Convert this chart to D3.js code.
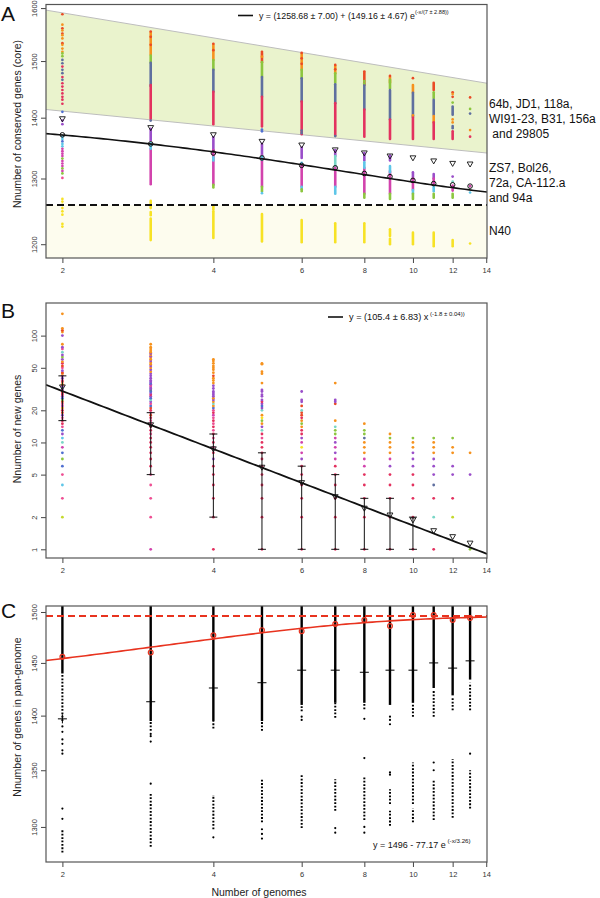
<!DOCTYPE html>
<html>
<head>
<meta charset="utf-8">
<title>Core, new and pan-genome</title>
<script src="https://d3js.org/d3.v7.min.js"></script>
<style>
body { margin: 0; background: #fff; }
svg text { font-family: "Liberation Sans", Arial, Helvetica, sans-serif; }
</style>
</head>
<body>
<script>
var width = 600,
    height = 898;

// ---------- shared ----------
var xTicks = [2, 4, 6, 8, 10, 12, 14];
var genomes = [2, 3, 4, 5, 6, 7, 8, 9, 10, 11, 12, 13];

var palette = {
  orange: "#f6921e", redor: "#ea4a26", green: "#8cc63f", slate: "#5f6f9f",
  crimson: "#e3315f", blue: "#4f6fd0", purple: "#9a4ec9", magenta: "#d243ad",
  cyan: "#5ec6e8", teal: "#79d6c6", yellow: "#f7e225", pink: "#ee4f93", yg: "#c4d92c"
};

// ---------- panel A: core genes ----------
var coreTicks = [1200, 1300, 1400, 1500, 1600];
var coreFit = { a: 1258.68, b: 149.16, c: 7 };
var bandUpper = [[1.855, 1596], [14.05, 1460]];
var bandLower = [[1.855, 1414], [14.05, 1341]];
var coreMeans = [1398, 1383, 1371, 1360, 1354, 1346, 1341, 1336, 1333, 1328, 1324, 1323];
var coreMedians = [1371, 1356, 1341, 1333, 1321, 1317, 1308, 1303, 1297, 1292, 1290, 1288];
var coreSegs = [
  [3,1512,1553,"orange"],[3,1497,1510,"green"],[3,1455,1497,"slate"],[3,1398,1457,"crimson"],[3,1362,1381,"purple"],[3,1291,1348,"magenta"],[3,1348,1357,"cyan"],[3,1254,1265,"yellow"],[3,1243,1248,"yellow"],[3,1206,1238,"yellow"],
  [4,1502,1530,"orange"],[4,1484,1502,"green"],[4,1445,1484,"slate"],[4,1389,1445,"crimson"],[4,1346,1367,"purple"],[4,1290,1346,"magenta"],[4,1329,1334,"cyan"],[4,1286,1290,"green"],[4,1252,1257,"yellow"],[4,1209,1249,"yellow"],
  [5,1498,1515,"redor"],[5,1471,1498,"green"],[5,1436,1471,"slate"],[5,1385,1436,"crimson"],[5,1337,1356,"purple"],[5,1287,1337,"magenta"],[5,1330,1336,"cyan"],[5,1280,1287,"green"],[5,1204,1245,"yellow"],
  [6,1484,1513,"orange"],[6,1469,1484,"green"],[6,1428,1469,"slate"],[6,1372,1428,"crimson"],[6,1333,1350,"purple"],[6,1287,1324,"magenta"],[6,1284,1287,"cyan"],[6,1280,1283,"green"],[6,1203,1236,"yellow"],
  [7,1478,1491,"orange"],[7,1461,1478,"green"],[7,1425,1458,"slate"],[7,1370,1425,"crimson"],[7,1336,1346,"purple"],[7,1317,1336,"teal"],[7,1287,1317,"magenta"],[7,1276,1287,"cyan"],[7,1203,1231,"yellow"],
  [8,1457,1479,"redor"],[8,1414,1457,"slate"],[8,1368,1414,"crimson"],[8,1329,1341,"purple"],[8,1276,1317,"magenta"],[8,1317,1326,"cyan"],[8,1270,1276,"green"],[8,1203,1231,"yellow"],
  [9,1461,1471,"orange"],[9,1451,1466,"green"],[9,1397,1448,"slate"],[9,1364,1397,"crimson"],[9,1329,1337,"purple"],[9,1276,1312,"magenta"],[9,1310,1320,"cyan"],[9,1268,1276,"green"],[9,1212,1222,"yellow"],[9,1200,1208,"yellow"],
  [10,1443,1457,"orange"],[10,1401,1443,"slate"],[10,1364,1401,"crimson"],[10,1298,1310,"purple"],[10,1282,1300,"magenta"],[10,1276,1282,"cyan"],[10,1268,1276,"green"],[10,1200,1217,"yellow"],
  [11,1448,1461,"redor"],[11,1434,1444,"green"],[11,1405,1431,"slate"],[11,1392,1403,"orange"],[11,1364,1392,"crimson"],[11,1300,1307,"purple"],[11,1292,1300,"magenta"],[11,1280,1287,"cyan"],[11,1270,1276,"green"],[11,1197,1217,"yellow"],
  [12,1405,1419,"slate"],[12,1382,1386,"slate"],[12,1364,1377,"crimson"],[12,1281,1289,"magenta"],[12,1270,1276,"green"],[12,1197,1206,"yellow"]
];
var coreDots = [
  [2,1588,"redor"],[2,1568,"orange"],[2,1561,"redor"],[2,1557,"orange"],[2,1551,"redor"],[2,1548,"orange"],[2,1542,"orange"],[2,1533,"redor"],[2,1530,"orange"],[2,1523,"orange"],[2,1517,"orange"],[2,1514,"green"],[2,1509,"green"],[2,1502,"slate"],[2,1496,"slate"],[2,1490,"crimson"],[2,1484,"slate"],[2,1478,"slate"],[2,1471,"crimson"],[2,1466,"slate"],[2,1460,"crimson"],[2,1454,"crimson"],[2,1448,"crimson"],[2,1442,"crimson"],[2,1436,"crimson"],[2,1431,"crimson"],[2,1424,"crimson"],[2,1410,"blue"],[2,1395,"purple"],[2,1389,"purple"],[2,1368,"cyan"],[2,1364,"cyan"],[2,1360,"blue"],[2,1356,"cyan"],[2,1352,"cyan"],[2,1348,"magenta"],[2,1344,"magenta"],[2,1340,"magenta"],[2,1336,"magenta"],[2,1332,"green"],[2,1328,"magenta"],[2,1324,"magenta"],[2,1320,"magenta"],[2,1316,"green"],[2,1312,"magenta"],[2,1308,"green"],[2,1301,"pink"],[2,1268,"yellow"],[2,1264,"yellow"],[2,1259,"yellow"],[2,1254,"yellow"],[2,1249,"yellow"],[2,1244,"yellow"],[2,1230,"yellow"],[2,1226,"yellow"],
  [3,1555,"redor"],[3,1545,"redor"],[3,1530,"redor"],[3,1395,"slate"],
  [4,1532,"redor"],[4,1520,"redor"],
  [5,1517,"redor"],[5,1508,"orange"],[5,1380,"blue"],[5,1377,"blue"],[5,1277,"cyan"],
  [6,1515,"redor"],[6,1505,"redor"],[6,1495,"redor"],[6,1378,"slate"],[6,1374,"slate"],[6,1325,"cyan"],
  [7,1493,"redor"],[7,1485,"redor"],[7,1369,"slate"],
  [8,1481,"redor"],[8,1464,"green"],[8,1460,"green"],
  [9,1473,"redor"],
  [10,1469,"redor"],[10,1404,"orange"],
  [12,1444,"redor"],[12,1441,"orange"],[12,1436,"redor"],[12,1426,"green"],[12,1397,"orange"],[12,1392,"orange"],[12,1303,"purple"],[12,1295,"teal"],
  [13,1435,"redor"],[13,1415,"green"],[13,1407,"slate"],[13,1379,"orange"],[13,1368,"crimson"],[13,1288,"magenta"],[13,1278,"cyan"],[13,1201,"yellow"]
];
var strainsTop = ["64b, JD1, 118a,", "WI91-23, B31, 156a", " and 29805"];
var strainsMid = ["ZS7, Bol26,", "72a, CA-112.a", "and 94a"];
var strainsLow = ["N40"];

// ---------- panel B: new genes ----------
var newTicks = [1, 2, 5, 10, 20, 50, 100];
var newFit = { a: 105.4, b: -1.8 };
var newMeans = [33, 14.6, 8.7, 5.85, 4.2, 3.1, 2.42, 2.09, 1.88, 1.49, 1.31, 1.14];
var newErr = [[2,16,42],[3,5,19],[4,2,12],[5,1,8],[6,1,6],[7,1,5],[8,1,3],[9,1,3],[10,1,2]];
var newDots = [
  [2,2,"yg"],[2,3,"pink"],[2,4,"cyan"],[2,5,"pink"],[2,6,"blue"],[2,7,"green"],[2,8,"blue"],[2,9,"magenta"],[2,10,"teal"],[2,11,"cyan"],[2,12,"purple"],[2,13,"blue"],[2,14,"pink"],[2,15,"crimson"],[2,16,"crimson"],[2,17,"pink"],[2,18,"purple"],[2,19,"redor"],[2,20,"crimson"],[2,21,"orange"],[2,22,"magenta"],[2,23,"pink"],[2,24,"redor"],[2,25,"green"],[2,26,"blue"],[2,27,"purple"],[2,28,"crimson"],[2,29,"crimson"],[2,30,"redor"],[2,31,"purple"],[2,33,"blue"],[2,34,"magenta"],[2,35,"orange"],[2,37,"redor"],[2,38,"pink"],[2,40,"purple"],[2,42,"magenta"],[2,44,"orange"],[2,45,"redor"],[2,47,"purple"],[2,50,"pink"],[2,52,"redor"],[2,55,"crimson"],[2,57,"orange"],[2,60,"purple"],[2,63,"green"],[2,66,"purple"],[2,70,"teal"],[2,75,"pink"],[2,78,"purple"],[2,83,"orange"],[2,100,"purple"],[2,108,"orange"],[2,112,"redor"],[2,117,"orange"],[2,160,"orange"],
  [3,1,"magenta"],[3,2,"pink"],[3,3,"pink"],[3,4,"pink"],[3,5,"pink"],[3,6,"crimson"],[3,7,"crimson"],[3,8,"crimson"],[3,9,"crimson"],[3,10,"crimson"],[3,11,"crimson"],[3,12,"pink"],[3,13,"crimson"],[3,14,"crimson"],[3,15,"pink"],[3,16,"pink"],[3,17,"crimson"],[3,18,"redor"],[3,19,"pink"],[3,20,"crimson"],[3,21,"redor"],[3,22,"blue"],[3,23,"pink"],[3,24,"purple"],[3,25,"teal"],[3,26,"blue"],[3,27,"purple"],[3,28,"crimson"],[3,29,"purple"],[3,30,"blue"],[3,31,"slate"],[3,32,"purple"],[3,33,"purple"],[3,34,"pink"],[3,35,"purple"],[3,36,"blue"],[3,37,"purple"],[3,38,"purple"],[3,40,"purple"],[3,42,"purple"],[3,44,"purple"],[3,46,"orange"],[3,48,"purple"],[3,50,"orange"],[3,52,"purple"],[3,54,"orange"],[3,56,"orange"],[3,58,"purple"],[3,60,"orange"],[3,62,"orange"],[3,64,"purple"],[3,66,"orange"],[3,68,"purple"],[3,70,"orange"],[3,72,"orange"],[3,75,"orange"],[3,78,"orange"],[3,83,"orange"],
  [4,1,"crimson"],[4,2,"crimson"],[4,3,"crimson"],[4,4,"crimson"],[4,5,"crimson"],[4,6,"crimson"],[4,7,"purple"],[4,8,"crimson"],[4,9,"pink"],[4,10,"crimson"],[4,11,"pink"],[4,12,"crimson"],[4,13,"pink"],[4,14,"crimson"],[4,15,"pink"],[4,16,"crimson"],[4,17,"pink"],[4,18,"magenta"],[4,19,"crimson"],[4,20,"pink"],[4,21,"blue"],[4,22,"orange"],[4,23,"teal"],[4,24,"orange"],[4,25,"purple"],[4,26,"orange"],[4,27,"purple"],[4,28,"purple"],[4,29,"purple"],[4,30,"purple"],[4,32,"purple"],[4,34,"purple"],[4,36,"orange"],[4,38,"orange"],[4,40,"orange"],[4,42,"redor"],[4,45,"orange"],[4,48,"orange"],[4,50,"orange"],[4,52,"orange"],[4,55,"orange"],[4,58,"orange"],[4,60,"orange"],
  [5,1,"crimson"],[5,2,"crimson"],[5,3,"crimson"],[5,4,"crimson"],[5,5,"crimson"],[5,6,"crimson"],[5,7,"crimson"],[5,8,"crimson"],[5,9,"crimson"],[5,10,"crimson"],[5,11,"pink"],[5,12,"crimson"],[5,13,"teal"],[5,14,"purple"],[5,15,"orange"],[5,16,"green"],[5,17,"yellow"],[5,18,"orange"],[5,20,"teal"],[5,21,"purple"],[5,22,"blue"],[5,23,"purple"],[5,24,"crimson"],[5,25,"purple"],[5,27,"purple"],[5,28,"purple"],[5,30,"purple"],[5,31,"purple"],[5,36,"orange"],[5,44,"orange"],[5,46,"orange"],[5,54,"orange"],[5,55,"orange"],
  [6,1,"crimson"],[6,2,"crimson"],[6,3,"crimson"],[6,4,"crimson"],[6,5,"crimson"],[6,6,"crimson"],[6,7,"purple"],[6,8,"magenta"],[6,9,"yellow"],[6,10,"magenta"],[6,11,"purple"],[6,12,"crimson"],[6,13,"crimson"],[6,14,"orange"],[6,15,"green"],[6,16,"orange"],[6,17,"crimson"],[6,18,"redor"],[6,19,"redor"],[6,20,"teal"],[6,22,"redor"],[6,24,"purple"],[6,25,"purple"],[6,30,"purple"],
  [7,1,"crimson"],[7,2,"crimson"],[7,3,"crimson"],[7,4,"crimson"],[7,5,"crimson"],[7,6,"crimson"],[7,7,"magenta"],[7,8,"purple"],[7,9,"magenta"],[7,10,"purple"],[7,11,"magenta"],[7,12,"green"],[7,13,"green"],[7,14,"teal"],[7,16,"orange"],[7,23,"redor"],[7,24,"purple"],[7,25,"purple"],[7,36,"orange"],
  [8,1,"crimson"],[8,2,"crimson"],[8,3,"crimson"],[8,4,"crimson"],[8,5,"crimson"],[8,6,"magenta"],[8,7,"magenta"],[8,8,"orange"],[8,9,"orange"],[8,10,"orange"],[8,11,"slate"],[8,12,"green"],[8,13,"green"],[8,15,"orange"],
  [9,1,"crimson"],[9,2,"crimson"],[9,3,"crimson"],[9,4,"crimson"],[9,5,"crimson"],[9,6,"purple"],[9,7,"magenta"],[9,8,"orange"],[9,9,"orange"],[9,10,"orange"],[9,11,"green"],[9,12,"orange"],
  [10,1,"crimson"],[10,2,"crimson"],[10,3,"crimson"],[10,4,"crimson"],[10,5,"crimson"],[10,6,"purple"],[10,7,"purple"],[10,8,"purple"],[10,9,"orange"],[10,10,"orange"],[10,11,"green"],
  [11,1,"crimson"],[11,2,"teal"],[11,3,"crimson"],[11,4,"slate"],[11,5,"purple"],[11,6,"purple"],[11,7,"purple"],[11,8,"orange"],[11,9,"orange"],[11,10,"orange"],[11,11,"green"],
  [12,2,"yg"],[12,3,"crimson"],[12,5,"purple"],[12,6,"purple"],[12,8,"orange"],[12,9,"orange"],[12,11,"green"],
  [13,1,"green"],[13,5,"purple"],[13,8,"orange"]
];

// ---------- panel C: pan-genome ----------
var panTicks = [1300, 1350, 1400, 1450, 1500];
var panFit = { a: 1496, b: 77.17, c: 3.26 };
var panMedians = [1397, 1413, 1426, 1431, 1443, 1443, 1441, 1443, 1443, 1450, 1445, 1452];
var panMeans = [1456, 1460, 1477, 1482, 1481, 1488, 1492, 1486, 1497, 1497, 1492, 1494];
var panDense = [[2,1440,1510],[3,1395,1510],[4,1395,1510],[5,1395,1510],[6,1410,1510],[7,1412,1510],[8,1412,1510],[9,1410,1510],[10,1412,1510],[11,1426,1510],[12,1419,1510],[13,1434,1510]];
var panSparse = [
  [2,1395,1440],[2,1278,1298],
  [3,1386,1395],[3,1283,1330],
  [4,1388,1395],[4,1298,1328],
  [5,1386,1395],[5,1304,1343],
  [6,1404,1410],[6,1299,1346],
  [7,1398,1412],[7,1314,1342],
  [8,1406,1412],[8,1306,1345],
  [9,1320,1333],[9,1301,1314],
  [10,1399,1412],[10,1320,1357],[10,1304,1316],
  [11,1399,1424],[11,1306,1342],
  [12,1405,1417],[12,1308,1360],
  [13,1405,1431],[13,1316,1350]
];
var panDots = [
  [2,1390],[2,1385],[2,1378],[2,1374],[2,1368],[2,1365],[2,1316],[2,1307],
  [3,1383],[3,1381],[3,1376],[3,1338],
  [4,1291],
  [5,1298],[5,1294],[5,1290],
  [6,1399],[6,1396],
  [7,1299],[7,1295],
  [8,1397],[8,1361],[8,1300],[8,1295],
  [9,1399],[9,1396],[9,1392],[9,1348],[9,1346],
  [11,1357],[11,1350],
  [13,1365]
];

// ---------- drawing ----------
var svg = d3.select("body").append("svg")
    .attr("width", width)
    .attr("height", height);

var left = 46, right = 487;
var x = d3.scaleLog().domain([1.855, 14.05]).range([left, right]);

function makeClip(id, top, bottom) {
  svg.append("clipPath").attr("id", id)
    .append("rect").attr("x", left).attr("y", top)
    .attr("width", right - left).attr("height", bottom - top);
}

function axes(y, top, bottom, yVals) {
  svg.append("g")
      .attr("transform", "translate(0," + bottom + ")")
      .call(d3.axisBottom(x).tickValues(xTicks).tickFormat(d3.format("d"))
        .tickSize(5).tickSizeOuter(0).tickPadding(5))
      .call(function(g) {
        g.select(".domain").remove();
        g.selectAll("line").attr("stroke", "#444");
        g.selectAll("text").attr("font-size", 7.5).attr("fill", "#333");
      });
  svg.append("g")
      .attr("transform", "translate(" + left + ",0)")
      .call(d3.axisLeft(y).tickValues(yVals).tickFormat(d3.format("d"))
        .tickSize(5).tickSizeOuter(0))
      .call(function(g) {
        g.select(".domain").remove();
        g.selectAll("line").attr("stroke", "#444");
        g.selectAll("text")
          .attr("transform", "rotate(-90)")
          .attr("x", 0).attr("y", -9).attr("dy", 0)
          .attr("text-anchor", "middle")
          .attr("font-size", 7.5).attr("fill", "#333");
      });
  svg.append("rect")
      .attr("x", left).attr("y", top)
      .attr("width", right - left).attr("height", bottom - top)
      .attr("fill", "none").attr("stroke", "#555").attr("stroke-width", 1.2);
}

function yTitle(txt, cy) {
  svg.append("text")
      .attr("transform", "translate(21," + cy + ") rotate(-90)")
      .attr("text-anchor", "middle")
      .attr("font-size", 10.5).attr("fill", "#222")
      .text(txt);
}

function panelLetter(txt, yBase) {
  svg.append("text").attr("x", 1).attr("y", yBase)
      .attr("font-size", 21).attr("fill", "#111").text(txt);
}

function fitLegend(xs, yBase, main, sup, mainSize, supSize) {
  var t = svg.append("text").attr("x", xs).attr("y", yBase)
      .attr("font-size", mainSize).attr("fill", "#111");
  t.append("tspan").text(main);
  t.append("tspan").attr("dy", -supSize * 0.75).attr("font-size", supSize).text(sup);
}

var downTri = "M-2.9,-2.1L2.9,-2.1L0,2.9Z";

// ===== Panel A =====
var topA = 4.5, botA = 258;
var yA = d3.scaleLog().domain([1180, 1607]).range([botA, topA]);
makeClip("clipA", topA, botA);
var gA = svg.append("g").attr("clip-path", "url(#clipA)");

gA.append("rect")
    .attr("x", left).attr("y", yA(coreFit.a))
    .attr("width", right - left).attr("height", botA - yA(coreFit.a))
    .attr("fill", "#fdfcee");

var bandPts = bandUpper.concat(bandLower.slice().reverse());
gA.append("path")
    .attr("d", d3.line().x(function(d) { return x(d[0]); }).y(function(d) { return yA(d[1]); })(bandPts) + "Z")
    .attr("fill", "#eaf3cd");
[bandUpper, bandLower].forEach(function(edge) {
  gA.append("line")
      .attr("x1", x(edge[0][0])).attr("y1", yA(edge[0][1]))
      .attr("x2", x(edge[1][0])).attr("y2", yA(edge[1][1]))
      .attr("stroke", "#bdbdbd").attr("stroke-width", 1);
});

gA.selectAll(".seg").data(coreSegs).enter().append("line")
    .attr("x1", function(d) { return x(d[0]); }).attr("x2", function(d) { return x(d[0]); })
    .attr("y1", function(d) { return yA(d[1]); }).attr("y2", function(d) { return yA(d[2]); })
    .attr("stroke", function(d) { return palette[d[3]]; })
    .attr("stroke-width", 2.6).attr("stroke-linecap", "round");
gA.selectAll(".dot").data(coreDots).enter().append("circle")
    .attr("cx", function(d) { return x(d[0]); }).attr("cy", function(d) { return yA(d[1]); })
    .attr("r", 1.35).attr("fill", function(d) { return palette[d[2]]; });

gA.append("line")
    .attr("x1", left).attr("x2", right)
    .attr("y1", yA(coreFit.a)).attr("y2", yA(coreFit.a))
    .attr("stroke", "#111").attr("stroke-width", 2).attr("stroke-dasharray", "7,4");

var curveXs = d3.range(0, 101).map(function(i) { return 1.855 * Math.pow(14.05 / 1.855, i / 100); });
gA.append("path")
    .attr("d", d3.line()
      .x(function(v) { return x(v); })
      .y(function(v) { return yA(coreFit.a + coreFit.b * Math.exp(-v / coreFit.c)); })(curveXs))
    .attr("fill", "none").attr("stroke", "#111").attr("stroke-width", 1.6);

gA.selectAll(".med").data(coreMedians).enter().append("circle")
    .attr("cx", function(d, i) { return x(genomes[i]); }).attr("cy", function(d) { return yA(d); })
    .attr("r", 2.3).attr("fill", "none").attr("stroke", "#111").attr("stroke-width", 1);
gA.selectAll(".mean").data(coreMeans).enter().append("path")
    .attr("transform", function(d, i) { return "translate(" + x(genomes[i]) + "," + yA(d) + ")"; })
    .attr("d", downTri).attr("fill", "none").attr("stroke", "#111").attr("stroke-width", 0.9);

axes(yA, topA, botA, coreTicks);
yTitle("Nnumber of conserved genes (core)", 124);
panelLetter("A", 21);

svg.append("line").attr("x1", 238).attr("x2", 253).attr("y1", 15.5).attr("y2", 15.5)
    .attr("stroke", "#111").attr("stroke-width", 1.6);
fitLegend(259, 18.5, "y = (1258.68 \u00b1 7.00) + (149.16 \u00b1 4.67) e", "(-x/(7 \u00b1 2.88))", 8.8, 5.6);

function sideLabel(lines, yFirst) {
  svg.selectAll(null).data(lines).enter().append("text")
      .attr("x", 489).attr("y", function(d, i) { return yFirst + i * 15; })
      .attr("font-size", 12).attr("fill", "#111")
      .attr("xml:space", "preserve")
      .text(function(d) { return d; });
}
sideLabel(strainsTop, 107.5);
sideLabel(strainsMid, 172);
sideLabel(strainsLow, 234.5);

// ===== Panel B =====
var topB = 303, botB = 558;
var yB = d3.scaleLog().domain([0.829, 202]).range([botB, topB]);
makeClip("clipB", topB, botB);
var gB = svg.append("g").attr("clip-path", "url(#clipB)");

gB.selectAll(".dot").data(newDots).enter().append("circle")
    .attr("cx", function(d) { return x(d[0]); }).attr("cy", function(d) { return yB(d[1]); })
    .attr("r", 1.4).attr("fill", function(d) { return palette[d[2]]; });

gB.append("path")
    .attr("d", d3.line()
      .x(function(v) { return x(v); })
      .y(function(v) { return yB(newFit.a * Math.pow(v, newFit.b)); })(curveXs))
    .attr("fill", "none").attr("stroke", "#111").attr("stroke-width", 1.8);

var eb = gB.selectAll(".err").data(newErr).enter().append("g")
    .attr("stroke", "#111").attr("stroke-width", 1);
eb.append("line")
    .attr("x1", function(d) { return x(d[0]); }).attr("x2", function(d) { return x(d[0]); })
    .attr("y1", function(d) { return yB(d[1]); }).attr("y2", function(d) { return yB(d[2]); });
eb.append("line")
    .attr("x1", function(d) { return x(d[0]) - 4; }).attr("x2", function(d) { return x(d[0]) + 4; })
    .attr("y1", function(d) { return yB(d[1]); }).attr("y2", function(d) { return yB(d[1]); });
eb.append("line")
    .attr("x1", function(d) { return x(d[0]) - 4; }).attr("x2", function(d) { return x(d[0]) + 4; })
    .attr("y1", function(d) { return yB(d[2]); }).attr("y2", function(d) { return yB(d[2]); });

gB.selectAll(".mean").data(newMeans).enter().append("path")
    .attr("transform", function(d, i) { return "translate(" + x(genomes[i]) + "," + yB(d) + ")"; })
    .attr("d", downTri).attr("fill", "none").attr("stroke", "#111").attr("stroke-width", 0.9);

axes(yB, topB, botB, newTicks);
yTitle("Nnumber of new genes", 429);
panelLetter("B", 318);

svg.append("line").attr("x1", 328).attr("x2", 343).attr("y1", 317).attr("y2", 317)
    .attr("stroke", "#111").attr("stroke-width", 1.6);
fitLegend(349, 320, "y = (105.4 \u00b1 6.83) x", " (-1.8 \u00b1 0.04))", 9.2, 6);

// ===== Panel C =====
var topC = 606, botC = 862;
var yC = d3.scaleLog().domain([1270, 1506]).range([botC, topC]);
makeClip("clipC", topC, botC);
var gC = svg.append("g").attr("clip-path", "url(#clipC)");

gC.selectAll(".dense").data(panDense).enter().append("line")
    .attr("x1", function(d) { return x(d[0]); }).attr("x2", function(d) { return x(d[0]); })
    .attr("y1", function(d) { return yC(d[1]); }).attr("y2", function(d) { return yC(d[2]); })
    .attr("stroke", "#000").attr("stroke-width", 2.4);
gC.selectAll(".sparse").data(panSparse).enter().append("line")
    .attr("x1", function(d) { return x(d[0]); }).attr("x2", function(d) { return x(d[0]); })
    .attr("y1", function(d) { return yC(d[1]); }).attr("y2", function(d) { return yC(d[2]); })
    .attr("stroke", "#000").attr("stroke-width", 2).attr("stroke-dasharray", "1.8,1.6");
gC.selectAll(".dot").data(panDots).enter().append("circle")
    .attr("cx", function(d) { return x(d[0]); }).attr("cy", function(d) { return yC(d[1]); })
    .attr("r", 1.1).attr("fill", "#000");

gC.append("line")
    .attr("x1", left).attr("x2", right)
    .attr("y1", yC(panFit.a)).attr("y2", yC(panFit.a))
    .attr("stroke", "#e8331f").attr("stroke-width", 1.8).attr("stroke-dasharray", "7,4");
gC.append("path")
    .attr("d", d3.line()
      .x(function(v) { return x(v); })
      .y(function(v) { return yC(panFit.a - panFit.b * Math.exp(-v / panFit.c)); })(curveXs))
    .attr("fill", "none").attr("stroke", "#e8331f").attr("stroke-width", 1.6);

var plus = gC.selectAll(".med").data(panMedians).enter().append("g")
    .attr("transform", function(d, i) { return "translate(" + x(genomes[i]) + "," + yC(d) + ")"; })
    .attr("stroke", "#000").attr("stroke-width", 1);
plus.append("line").attr("x1", -4.5).attr("x2", 4.5);
plus.append("line").attr("y1", -4.5).attr("y2", 4.5);

gC.selectAll(".mean").data(panMeans).enter().append("circle")
    .attr("cx", function(d, i) { return x(genomes[i]); }).attr("cy", function(d) { return yC(d); })
    .attr("r", 2.4).attr("fill", "none").attr("stroke", "#e8331f").attr("stroke-width", 1.2);

axes(yC, topC, botC, panTicks);
yTitle("Nnumber of genes in pan-genome", 717);
panelLetter("C", 618);
fitLegend(373, 848, "y = 1496 - 77.17 e", " (-x/3.26)", 9, 6.2);

svg.append("text").attr("x", 259).attr("y", 895.5)
    .attr("text-anchor", "middle").attr("font-size", 10.5).attr("fill", "#222")
    .text("Number of genomes");
</script>
</body>
</html>
